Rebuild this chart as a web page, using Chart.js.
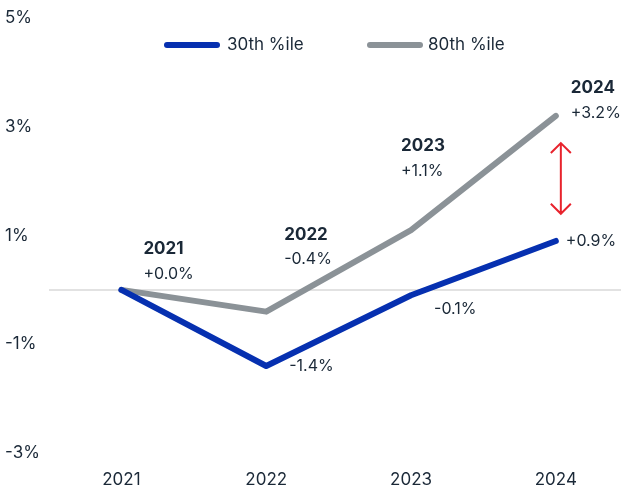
<!DOCTYPE html>
<html>
<head>
<meta charset="utf-8">
<script src="https://cdn.jsdelivr.net/npm/chart.js@4.4.1/dist/chart.umd.min.js"></script>
<style>
  html, body { margin: 0; padding: 0; background: #fff; }
  #wrap { position: relative; width: 621px; height: 491px; }
</style>
</head>
<body>
<div id="wrap"><canvas id="chart"></canvas></div>
<script>
// data
const years = [2021, 2022, 2023, 2024];
const pct30 = [0.0, -1.4, -0.1, 0.9];
const pct80 = [0.0, -0.4, 1.1, 3.2];
const seriesNames = ['30th %ile', '80th %ile'];
const yTicks = [-3, -1, 1, 3, 5];

const BLUE = '#0630b0';
const GREY = '#8b9297';
const INK = '#1a2837';
const FONT = 'Inter, "Open Sans", sans-serif';

// point callouts: which series, which year, pixel nudge from the point
const callouts = [
    { series: 1, i: 0, dx: 22, dy: -41, year: true },
    { series: 1, i: 1, dx: 18, dy: -77, year: true },
    { series: 1, i: 2, dx: -10, dy: -84, year: true },
    { series: 1, i: 3, dx: 15, dy: -28, year: true },
    { series: 0, i: 1, dx: 23, dy: 0 },
    { series: 0, i: 2, dx: 23, dy: 14 },
    { series: 0, i: 3, dx: 10, dy: 0 }
];

const fmt = v => (v >= 0 ? '+' : '-') + Math.abs(v).toFixed(1) + '%';

const overlay = {
    id: 'overlay',
    beforeDatasetsDraw(chart) {
        const { ctx, chartArea, scales } = chart;
        const y0 = scales.y.getPixelForValue(0);
        ctx.save();
        ctx.strokeStyle = '#d9d9d9';
        ctx.lineWidth = 1.5;
        ctx.beginPath();
        ctx.moveTo(chartArea.left, y0);
        ctx.lineTo(chartArea.right, y0);
        ctx.stroke();
        ctx.restore();
    },
    afterDatasetsDraw(chart) {
        const { ctx, scales } = chart;
        const x = scales.x, y = scales.y;
        ctx.save();
        ctx.textAlign = 'left';
        ctx.textBaseline = 'middle';
        ctx.fillStyle = INK;

        callouts.forEach(c => {
            const vals = c.series === 0 ? pct30 : pct80;
            const px = x.getPixelForValue(years[c.i]) + c.dx;
            const py = y.getPixelForValue(vals[c.i]) + c.dy;
            if (c.year) {
                ctx.font = 'bold 17px ' + FONT;
                ctx.fillText(String(years[c.i]), px, py);
                ctx.font = '16px ' + FONT;
                ctx.fillText(fmt(vals[c.i]), px, py + 25);
            } else {
                ctx.font = '16px ' + FONT;
                ctx.fillText(fmt(vals[c.i]), px, py);
            }
        });

        // red double arrow showing the gap in 2024
        const ax = x.getPixelForValue(years[3]) + 5;
        const top = y.getPixelForValue(2.7);
        const bot = y.getPixelForValue(1.4);
        ctx.strokeStyle = '#e8232d';
        ctx.lineWidth = 2;
        ctx.beginPath();
        ctx.moveTo(ax, top); ctx.lineTo(ax, bot);
        ctx.moveTo(ax - 10, top + 10); ctx.lineTo(ax, top); ctx.lineTo(ax + 10, top + 10);
        ctx.moveTo(ax - 10, bot - 10); ctx.lineTo(ax, bot); ctx.lineTo(ax + 10, bot - 10);
        ctx.stroke();

        // legend
        const items = [[167, 227], [370, 428]];
        chart.data.datasets.forEach((ds, k) => {
            ctx.strokeStyle = ds.borderColor;
            ctx.lineWidth = 6;
            ctx.lineCap = 'round';
            ctx.beginPath();
            ctx.moveTo(items[k][0], 45);
            ctx.lineTo(items[k][0] + 50, 45);
            ctx.stroke();
            ctx.font = '17px ' + FONT;
            ctx.fillStyle = INK;
            ctx.fillText(ds.label, items[k][1], 45);
        });
        ctx.restore();
    }
};

new Chart(document.getElementById('chart'), {
    type: 'line',
    data: {
        datasets: [
            {
                label: seriesNames[0],
                data: years.map((yr, i) => ({ x: yr, y: pct30[i] })),
                borderColor: BLUE,
                borderWidth: 6,
                borderJoinStyle: 'round',
                borderCapStyle: 'round',
                pointRadius: 0,
                tension: 0
            },
            {
                label: seriesNames[1],
                data: years.map((yr, i) => ({ x: yr, y: pct80[i] })),
                borderColor: GREY,
                borderWidth: 6,
                borderJoinStyle: 'round',
                borderCapStyle: 'round',
                pointRadius: 0,
                tension: 0
            }
        ]
    },
    options: {
        responsive: true,
        maintainAspectRatio: false,
        animation: false,
        layout: { padding: { top: 18, left: 5, right: 0, bottom: 0 } },
        plugins: {
            legend: { display: false },
            tooltip: { enabled: false }
        },
        scales: {
            x: {
                type: 'linear',
                min: 2020.5,
                max: 2024.45,
                grid: { display: false, drawTicks: false },
                border: { display: false },
                afterBuildTicks: s => { s.ticks = years.map(v => ({ value: v })); },
                afterFit: s => { s.height = 38; },
                ticks: {
                    padding: 17,
                    color: INK,
                    font: { family: FONT, size: 17 },
                    callback: v => String(v)
                }
            },
            y: {
                min: -3,
                max: 5,
                grid: { display: false, drawTicks: false },
                border: { display: false },
                afterBuildTicks: s => { s.ticks = yTicks.map(v => ({ value: v })); },
                afterFit: s => { s.width = 44; },
                ticks: {
                    crossAlign: 'far',
                    padding: 0,
                    color: INK,
                    font: { family: FONT, size: 17 },
                    callback: v => v + '%'
                }
            }
        }
    },
    plugins: [overlay]
});
</script>
</body>
</html>
